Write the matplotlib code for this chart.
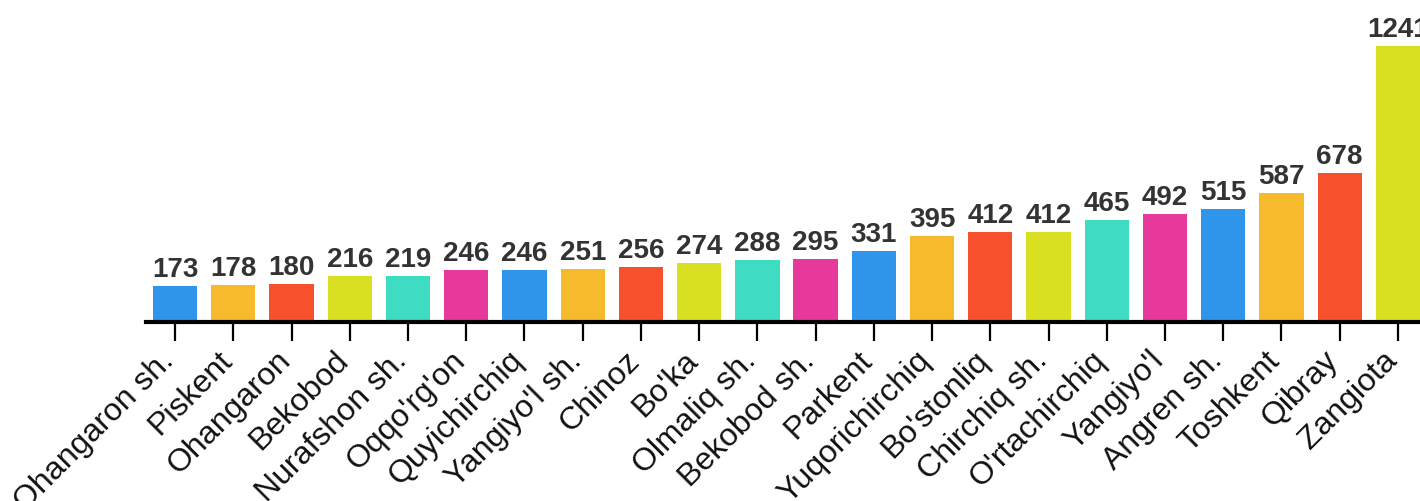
import matplotlib
matplotlib.use("Agg")
import matplotlib.pyplot as plt

categories = ["Ohangaron sh.", "Piskent", "Ohangaron", "Bekobod", "Nurafshon sh.",
              "Oqqo'rg'on", "Quyichirchiq", "Yangiyo'l sh.", "Chinoz", "Bo'ka",
              "Olmaliq sh.", "Bekobod sh.", "Parkent", "Yuqorichirchiq", "Bo'stonliq",
              "Chirchiq sh.", "O'rtachirchiq", "Yangiyo'l", "Angren sh.", "Toshkent",
              "Qibray", "Zangiota"]
values = [173, 178, 180, 216, 219, 246, 246, 251, 256, 274, 288, 295, 331, 395,
          412, 412, 465, 492, 515, 587, 678, 1241]
palette = ["#2F95EA", "#F7BA2C", "#F7502C", "#D9E021", "#3EDCC3", "#E6399B"]

plt.rcParams['font.family'] = ['Liberation Sans', 'DejaVu Sans']

W, H = 1420, 502
fig = plt.figure(figsize=(W / 100, H / 100), dpi=100)
left, right = 146, 1427
bottom_y, top_y = 323, 0
ax = fig.add_axes([left / W, 1 - bottom_y / H, (right - left) / W, (bottom_y - top_y) / H])

x = list(range(len(categories)))
colors = [palette[i % len(palette)] for i in x]
ax.bar(x, values, width=0.76, color=colors, zorder=2)
ax.set_xlim(-0.5, len(categories) - 0.5)
ax.set_ylim(13, 1450)

for xi, v in zip(x, values):
    ax.annotate(str(v), (xi, v), xytext=(0, 7.2), textcoords='offset points',
                ha='center', va='baseline', fontsize=20, fontweight='bold',
                color='#333333', annotation_clip=False)

for s in ['top', 'right', 'left']:
    ax.spines[s].set_visible(False)
ax.spines['bottom'].set_linewidth(3)
ax.spines['bottom'].set_color('#000000')
ax.spines['bottom'].set_zorder(3)
ax.set_yticks([])
ax.set_xticks(x)
ax.set_xticklabels(categories, rotation=45, ha='right', va='baseline',
                   rotation_mode='anchor', fontsize=23, color='#111111')
ax.tick_params(axis='x', length=14, width=1.6, color='#000000', pad=14)

fig.savefig("out.png", dpi=100)
